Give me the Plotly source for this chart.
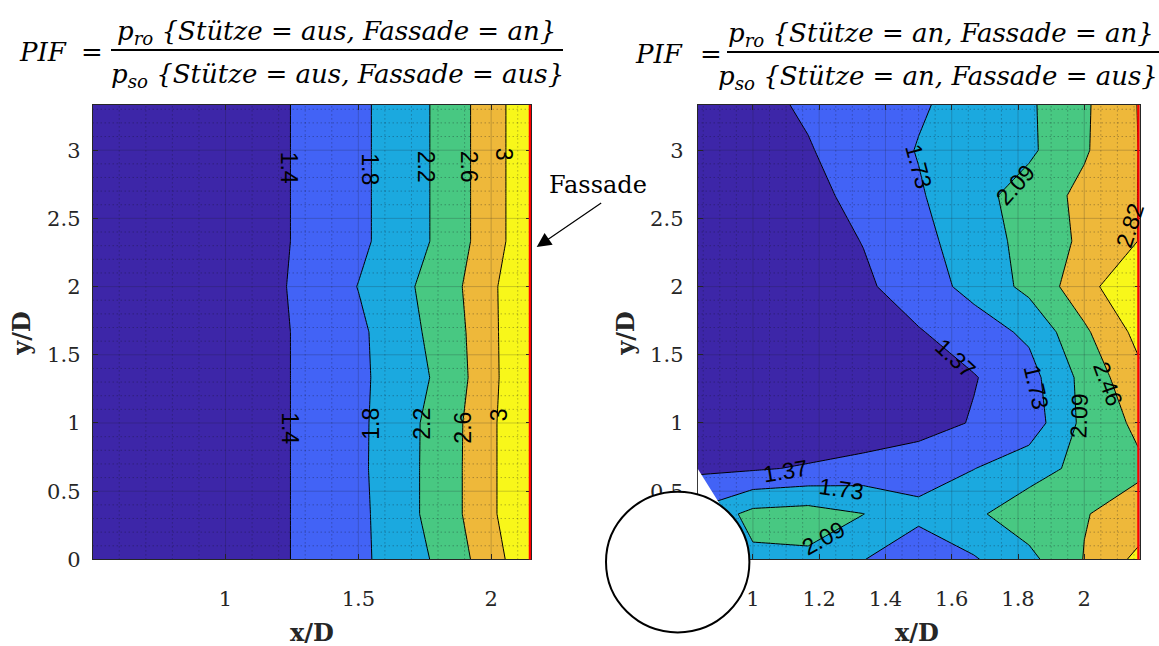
import plotly.graph_objects as go

W, H = 1159, 646

# ---------------------------------------------------------------------------
# Messraster (x/D, y/D) und PIF-Werte
# ---------------------------------------------------------------------------
y_nodes = [0.0, 0.3333, 0.6667, 1.0, 1.3333, 1.6667, 2.0, 2.3333, 2.6667, 3.0, 3.3333]
x_nodes_left = [0.5, 0.6667, 0.8333, 1.0, 1.1667, 1.3333, 1.5, 1.6667, 1.8333, 2.0, 2.1667]
x_nodes_right = [0.8333, 1.0, 1.1667, 1.3333, 1.5, 1.6667, 1.8333, 2.0, 2.1667]

# Stütze = aus (rows: y/D from bottom to top)
pif_left = [
    [1.18, 1.21, 1.24, 1.27, 1.33, 1.48, 1.695, 2.039, 2.302, 2.86, 3.30],
    [1.18, 1.21, 1.24, 1.27, 1.33, 1.48, 1.700, 2.066, 2.415, 2.947, 3.35],
    [1.18, 1.21, 1.24, 1.27, 1.33, 1.48, 1.721, 2.066, 2.415, 2.947, 3.35],
    [1.18, 1.21, 1.24, 1.27, 1.33, 1.48, 1.716, 2.066, 2.405, 2.947, 3.35],
    [1.18, 1.21, 1.24, 1.27, 1.33, 1.48, 1.700, 2.055, 2.292, 2.934, 3.30],
    [1.18, 1.21, 1.24, 1.27, 1.33, 1.48, 1.709, 2.089, 2.342, 2.940, 3.30],
    [1.18, 1.21, 1.24, 1.27, 1.33, 1.515, 1.811, 2.118, 2.415, 2.947, 3.30],
    [1.18, 1.21, 1.24, 1.27, 1.33, 1.48, 1.700, 2.040, 2.300, 2.860, 3.28],
    [1.18, 1.21, 1.24, 1.27, 1.33, 1.48, 1.700, 2.040, 2.300, 2.860, 3.28],
    [1.18, 1.21, 1.24, 1.27, 1.33, 1.48, 1.700, 2.040, 2.300, 2.860, 3.28],
    [1.18, 1.21, 1.24, 1.27, 1.33, 1.48, 1.700, 2.040, 2.300, 2.860, 3.28],
]

# Stütze = an (no values inside the column footprint)
pif_right = [
    [None, 2.03, 2.03, 1.74, 1.55, 1.70, 2.00, 2.47, 2.92],
    [None, 2.20, 2.25, 2.10, 1.80, 2.03, 2.30, 2.44, 2.60],
    [1.30, 1.33, 1.41, 1.51, 1.62, 1.725, 1.945, 2.20, 2.40],
    [1.05, 1.02, 1.05, 1.10, 1.20, 1.40, 1.53, 2.19, 2.54],
    [1.02, 1.05, 1.10, 1.18, 1.26, 1.349, 1.60, 2.207, 2.74],
    [1.05, 1.10, 1.15, 1.25, 1.344, 1.562, 1.80, 2.397, 2.93],
    [1.10, 1.15, 1.22, 1.306, 1.561, 1.84, 2.191, 2.673, 3.20],
    [1.12, 1.18, 1.20, 1.382, 1.629, 1.908, 2.214, 2.528, 2.83],
    [1.15, 1.22, 1.265, 1.48, 1.697, 1.968, 2.256, 2.548, 2.83],
    [1.15, 1.25, 1.347, 1.541, 1.75, 1.894, 2.03, 2.416, 2.83],
    [1.15, 1.277, 1.416, 1.554, 1.693, 1.863, 2.043, 2.404, 2.84],
]

levels_left = dict(start=1.4, end=3.0, size=0.4)
levels_right = dict(start=1.37, end=2.8196, size=0.3624)

# contour label placement: (level index, x/D, y/D, text angle)
labels_left = [
    (0, 1.240, 2.87, 90), (1, 1.544, 2.86, 90), (2, 1.758, 2.88, 90),
    (3, 1.920, 2.88, 90), (4, 2.047, 2.97, 90),
    (0, 1.240, 0.960, 90), (1, 1.547, 0.993, -90), (2, 1.739, 0.993, -90),
    (3, 1.893, 0.964, -90), (4, 2.028, 1.061, -90),
]
labels_right = [
    (0, 1.610, 1.475, 43), (0, 1.099, 0.647, -9),
    (1, 1.501, 2.878, 75), (1, 1.855, 1.264, 77), (1, 1.268, 0.516, 8),
    (2, 1.791, 2.746, -48), (2, 1.986, 1.055, -88), (2, 1.214, 0.156, -29),
    (3, 2.071, 1.283, 70),
    (4, 2.138, 2.453, -72),
]

# axis setup
x_range_left = [0.5, 2.15]
x_range_right = [0.8333, 2.1667]
y_range = [0.0, 3.3333]
x_ticks_left = [1, 1.5, 2]
x_ticks_right = [1, 1.2, 1.4, 1.6, 1.8, 2]
y_ticks = [0, 0.5, 1, 1.5, 2, 2.5, 3]

band_colors = ["#3d26a8", "#4263f6", "#1ba9df", "#48c882", "#eeb83a", "#f8f71a"]

# ---------------------------------------------------------------------------
# helpers
# ---------------------------------------------------------------------------
def stepped_scale(colors):
    n = len(colors) - 1
    edges = [0.0] + [(2 * i + 1) / (2 * n) for i in range(n)] + [1.0]
    scale = []
    for i, c in enumerate(colors):
        scale.append([edges[i], c])
        scale.append([edges[i + 1], c])
    return scale


def fmt(v):
    return f"{round(v, 2):g}"


def tick_text(vals):
    return [f"{v:g}" for v in vals]


def minor_positions(lo, hi, step, majors):
    out = []
    n = int(round((hi - lo) / step))
    for i in range(n + 1):
        v = round(lo + i * step, 4)
        if any(abs(v - m) < 1e-6 for m in majors):
            continue
        out.append(v)
    return out


def grid_xy(xs, ys, xr, yr):
    gx, gy = [], []
    for v in xs:
        gx += [v, v, None]
        gy += [yr[0], yr[1], None]
    for v in ys:
        gx += [xr[0], xr[1], None]
        gy += [v, v, None]
    return gx, gy


scale = stepped_scale(band_colors)
fig = go.Figure()


def add_panel(x, z, lv, xr, xticks, minor_dx, xa, ya):
    fig.add_trace(go.Contour(
        x=x, y=y_nodes, z=z, xaxis=xa, yaxis=ya,
        contours=dict(start=lv["start"], end=lv["end"], size=lv["size"],
                      coloring="fill", showlabels=False),
        colorscale=scale, showscale=False,
        line=dict(color="black", width=1, smoothing=0),
        connectgaps=True, hoverinfo="skip"))
    # minor grid (dotted)
    start = round(xr[0] - (xr[0] % minor_dx), 4)
    mx = [v for v in minor_positions(start, xr[1] + minor_dx, minor_dx, xticks)
          if xr[0] + 1e-6 < v < xr[1] - 1e-6]
    my = [v for v in minor_positions(0.0, y_range[1] + 0.1, 0.1, y_ticks)
          if 0 < v < y_range[1]]
    gx, gy = grid_xy(mx, my, xr, y_range)
    fig.add_trace(go.Scatter(x=gx, y=gy, xaxis=xa, yaxis=ya, mode="lines",
                             line=dict(color="rgba(20,20,30,0.45)", width=1, dash="1px,3px"),
                             hoverinfo="skip", showlegend=False))
    # major grid
    gx, gy = grid_xy(xticks, [v for v in y_ticks if v > 0], xr, y_range)
    fig.add_trace(go.Scatter(x=gx, y=gy, xaxis=xa, yaxis=ya, mode="lines",
                             line=dict(color="rgba(30,30,40,0.22)", width=1),
                             hoverinfo="skip", showlegend=False))


add_panel(x_nodes_left, pif_left, levels_left, x_range_left, x_ticks_left, 0.1, "x", "y")
add_panel(x_nodes_right, pif_right, levels_right, x_range_right, x_ticks_right, 0.05, "x2", "y2")

# ---------------------------------------------------------------------------
# layout
# ---------------------------------------------------------------------------
def px(v):
    return v / W


def py(v):
    return 1 - v / H


tick_font = dict(family="DejaVu Serif", size=21, color="#262626")
axis_common = dict(ticks="inside", ticklen=5, tickwidth=1, tickcolor="#262626",
                   showline=True, linecolor="#262626", linewidth=1, mirror="ticks",
                   showgrid=False, zeroline=False, tickfont=tick_font, tickmode="array")

y_dom = [py(570), py(106.7)]
fig.update_layout(
    width=W, height=H, margin=dict(l=0, r=0, t=0, b=0),
    paper_bgcolor="white", plot_bgcolor="white", showlegend=False,
    xaxis=dict(domain=[px(92.7), px(531)], range=x_range_left, anchor="y",
               tickvals=x_ticks_left, ticktext=tick_text(x_ticks_left),
               ticklabelstandoff=20, **axis_common),
    yaxis=dict(domain=y_dom, range=y_range, anchor="x",
               tickvals=y_ticks, ticktext=tick_text(y_ticks),
               ticklabelstandoff=7, **axis_common),
    xaxis2=dict(domain=[px(697.7), px(1139.5)], range=x_range_right, anchor="y2",
                tickvals=x_ticks_right, ticktext=tick_text(x_ticks_right),
                ticklabelstandoff=20, **axis_common),
    yaxis2=dict(domain=y_dom, range=y_range, anchor="x2",
                tickvals=y_ticks, ticktext=tick_text(y_ticks),
                ticklabelstandoff=9, **axis_common),
)

# facade lines
for xa, ya, xr in (("x", "y", x_range_left), ("x2", "y2", x_range_right)):
    fig.add_shape(type="line", xref=xa, yref=ya, x0=xr[1], x1=xr[1],
                  y0=-0.025, y1=y_range[1], line=dict(color="#ff0000", width=4.5),
                  layer="above")

# column footprint (no data) and the column itself
fig.add_shape(type="path", xref="x2", yref="y2",
              path="M 0.8333,0.664 L 0.94,0.25 L 0.8333,0.25 Z",
              fillcolor="white", line=dict(width=0), layer="above")
fig.add_shape(type="circle", xref="paper", yref="paper",
              x0=px(606), x1=px(749.4), y0=py(644.4), y1=py(501),
              fillcolor="white", line=dict(color="black", width=2), layer="above")

ann = []


def text_at(x, y, text, font, angle=0):
    ann.append(dict(x=px(x), y=py(y), xref="paper", yref="paper", text=text,
                    textangle=angle, showarrow=False, font=font,
                    xanchor="center", yanchor="middle"))


label_font = dict(family="Liberation Sans", size=23, color="black")
for labels, lv, xa, ya in ((labels_left, levels_left, "x", "y"),
                           (labels_right, levels_right, "x2", "y2")):
    for k, lx, ly, ang in labels:
        value = lv["start"] + k * lv["size"]
        ann.append(dict(x=lx, y=ly, xref=xa, yref=ya, text=fmt(value),
                        textangle=ang, showarrow=False, font=label_font,
                        xanchor="center", yanchor="middle"))

# axis titles
title_font = dict(family="DejaVu Serif", size=24, color="#262626", weight="bold")
for cx in (312, 917):
    text_at(cx, 644, "x/D", title_font)
for cx in (22, 626):
    text_at(cx, 340, "y/D", title_font, angle=-90)

# facade callout
text_at(598, 188, "Fassade", dict(family="DejaVu Serif", size=24, color="black"))
ann.append(dict(x=px(536.7), y=py(251.7), xref="paper", yref="paper", text="",
                showarrow=True, ax=66, ay=-45, arrowhead=2, arrowsize=2.4,
                arrowwidth=1.2, arrowcolor="black"))

# PIF definitions
eq_font = dict(family="DejaVu Serif", size=26, color="black", style="italic")
eq_up = dict(family="DejaVu Serif", size=26, color="black")
formulas = [
    dict(pif=43, eq=92, bar=(111, 563, 51), num=(336, 33), den=(337, 77),
         num_t="p<sub>ro</sub> {Stütze = aus, Fassade = an}",
         den_t="p<sub>so</sub> {Stütze = aus, Fassade = aus}", mid=53),
    dict(pif=659, eq=711, bar=(727, 1159, 53), num=(941, 35), den=(938, 79),
         num_t="p<sub>ro</sub> {Stütze = an, Fassade = an}",
         den_t="p<sub>so</sub> {Stütze = an, Fassade = aus}", mid=55),
]
for f in formulas:
    text_at(f["pif"], f["mid"], "PIF", eq_font)
    text_at(f["eq"], f["mid"], "=", eq_up)
    text_at(f["num"][0], f["num"][1], f["num_t"], eq_font)
    text_at(f["den"][0], f["den"][1], f["den_t"], eq_font)
    b = f["bar"]
    fig.add_shape(type="line", xref="paper", yref="paper",
                  x0=px(b[0]), x1=px(b[1]), y0=py(b[2]), y1=py(b[2]),
                  line=dict(color="black", width=2))

fig.update_layout(annotations=ann)
fig.write_html("out.html")
